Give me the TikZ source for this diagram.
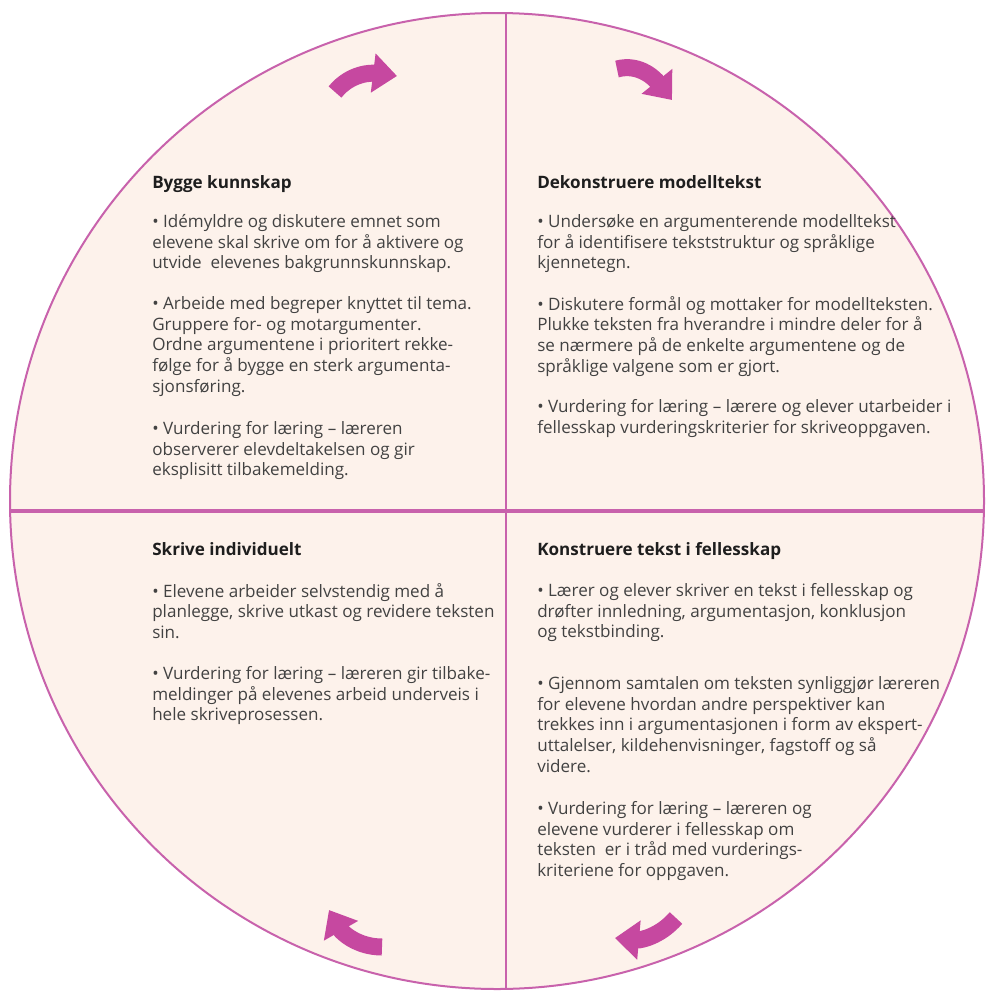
\documentclass[tikz,border=0pt]{standalone}
\usepackage{fontspec}
\setmainfont{Open Sans}
\usetikzlibrary{arrows.meta,positioning}

\definecolor{paper}{RGB}{253,242,235}
\definecolor{linepink}{RGB}{200,98,172}
\definecolor{arrowpink}{RGB}{198,72,160}
\definecolor{inkgray}{RGB}{66,66,66}
\definecolor{titlegray}{RGB}{30,30,30}

\tikzset{
  quadtext/.style={anchor=north west, inner sep=0pt, align=left, yshift=7.5pt,
    text=inkgray, font=\fontsize{12.8}{15.6}\selectfont, execute at begin node=\strut},
  quadtitle/.style={quadtext, font=\fontsize{12.8}{15.6}\selectfont\bfseries, text=titlegray},
  rim/.style={draw=linepink, line width=1.5pt},
  divider/.style={draw=linepink, line width=2.2pt},
  cyclearrow/.style={draw=arrowpink, line width=12.75pt, -{Triangle[width=28.5pt,length=18pt]}},
}

\begin{document}
\begin{tikzpicture}[x=0.75pt, y=0.75pt]
    \useasboundingbox (0,0) rectangle (987,-992);

    % Circle
    \draw[rim, fill=paper] (497,-501) ellipse [x radius=487, y radius=488];

    % Quadrant lines
    \begin{scope}
        \clip (497,-501) ellipse [x radius=487, y radius=488];
        \draw[divider] (506,0) -- (506,-992);
        \draw[divider, line width=2.6pt] (0,-511) -- (987,-511);
    \end{scope}

    % Arrows (clockwise)
    \draw[cyclearrow] (335,-92) to[out=51, in=173] (397,-76);
    \draw[cyclearrow] (617,-69) to[out=15, in=129] (672,-100);
    \draw[cyclearrow] (676,-918) to[out=229, in=-5] (615,-938);
    \draw[cyclearrow] (382,-947) to[out=180, in=-60] (329,-910);

    % Bygge kunnskap
    \node[quadtitle] (bk-title) at (152,-184) {Bygge kunnskap};
    \node[quadtext] (bk-p1) at (152,-224) {• Idémyldre og diskutere emnet som\\elevene skal skrive om for å aktivere og\\utvide\ \ elevenes bakgrunnskunnskap.};
    \node[quadtext] (bk-p2) at (152,-306) {• Arbeide med begreper knyttet til tema.\\Gruppere for- og motargumenter.\\Ordne argumentene i prioritert rekke-\\følge for å bygge en sterk argumenta-\\sjonsføring.};
    \node[quadtext] (bk-p3) at (152,-431) {• Vurdering for læring – læreren\\observerer elevdeltakelsen og gir\\eksplisitt tilbakemelding.};

    % Dekonstruere modelltekst
    \node[quadtitle] (dm-title) at (537,-184) {Dekonstruere modelltekst};
    \node[quadtext] (dm-p1) at (537,-224) {• Undersøke en argumenterende modelltekst\\for å identifisere tekststruktur og språklige\\kjennetegn.};
    \node[quadtext] (dm-p2) at (537,-306) {• Diskutere formål og mottaker for modellteksten.\\Plukke teksten fra hverandre i mindre deler for å\\se nærmere på de enkelte argumentene og de\\språklige valgene som er gjort.};
    \node[quadtext] (dm-p3) at (537,-409) {• Vurdering for læring – lærere og elever utarbeider i\\fellesskap vurderingskriterier for skriveoppgaven.};

    % Skrive individuelt
    \node[quadtitle] (si-title) at (152,-551) {Skrive individuelt};
    \node[quadtext] (si-p1) at (152,-593) {• Elevene arbeider selvstendig med å\\planlegge, skrive utkast og revidere teksten\\sin.};
    \node[quadtext] (si-p2) at (152,-676) {• Vurdering for læring – læreren gir tilbake-\\meldinger på elevenes arbeid underveis i\\hele skriveprosessen.};

    % Konstruere tekst i fellesskap
    \node[quadtitle] (kt-title) at (537,-551) {Konstruere tekst i fellesskap};
    \node[quadtext] (kt-p1) at (537,-593) {• Lærer og elever skriver en tekst i fellesskap og\\drøfter innledning, argumentasjon, konklusjon\\og tekstbinding.};
    \node[quadtext] (kt-p2) at (537,-686) {• Gjennom samtalen om teksten synliggjør læreren\\for elevene hvordan andre perspektiver kan\\trekkes inn i argumentasjonen i form av ekspert-\\uttalelser, kildehenvisninger, fagstoff og så\\videre.};
    \node[quadtext] (kt-p3) at (537,-811) {• Vurdering for læring – læreren og\\elevene vurderer i fellesskap om\\teksten\ \ er i tråd med vurderings-\\kriteriene for oppgaven.};

\end{tikzpicture}
\end{document}
